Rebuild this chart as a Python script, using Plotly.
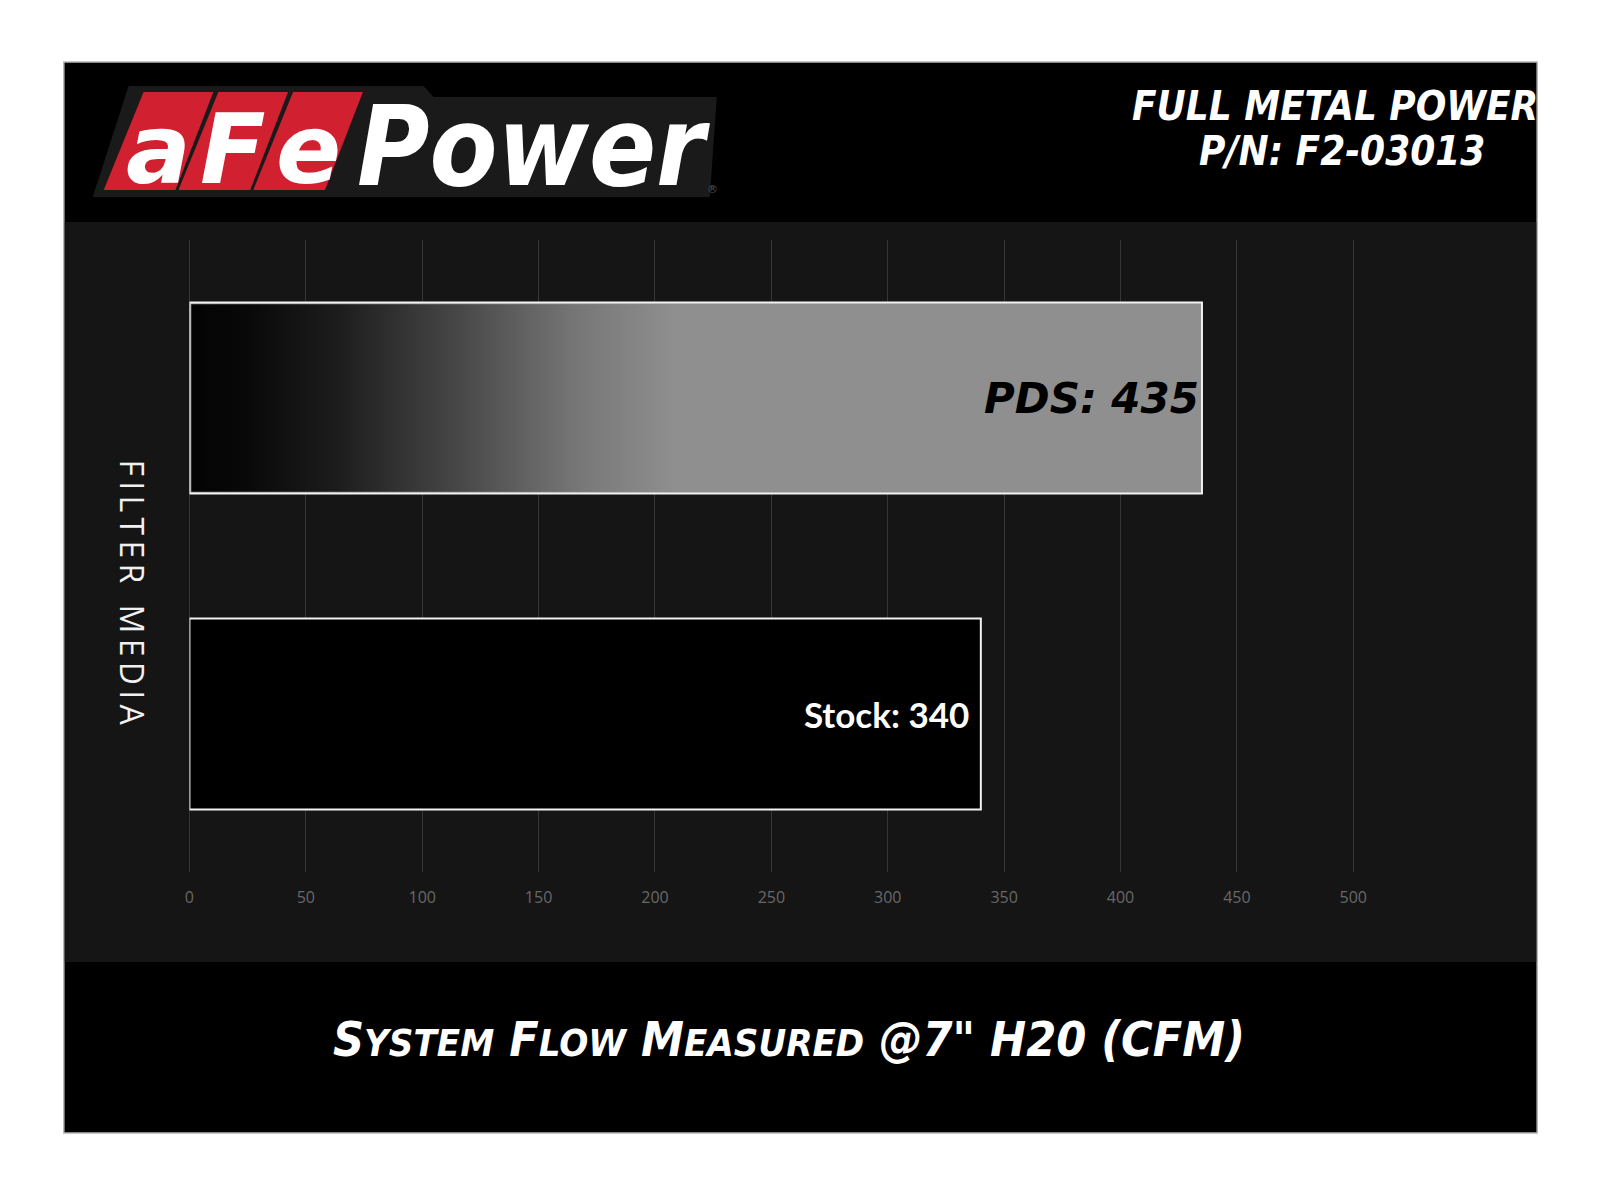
import plotly.graph_objects as go

# ---------------- data ----------------
categories = ["Stock", "PDS"]
flow_cfm = [340, 435]
x_ticks = [0, 50, 100, 150, 200, 250, 300, 350, 400, 450, 500]
header_line1 = "FULL METAL POWER"
header_line2 = "P/N: F2-03013"
axis_title = "FILTER MEDIA"
x_title = "System Flow Measured @7\" H20 (CFM)"

# page is 1600x1199 with an 8px body margin around the figure
OFF = 8
W, H = 1600 - 2 * OFF, 1199 - 2 * OFF


def px(x):
    return (x - OFF) / W


def py(y):
    return 1 - (y - OFF) / H


BAR_W = 0.604
positions = list(range(len(categories)))
bar_colors = ["#000000", "#8f8f8f"]
text_colors = ["#ffffff", "#000000"]
text_pad = ["\u00a0", ""]
labels = [f"{c}: {v}" for c, v in zip(categories, flow_cfm)]

fig = go.Figure()

# bars
fig.add_trace(go.Bar(
    y=positions, x=flow_cfm, orientation="h", width=BAR_W,
    marker=dict(color=bar_colors, line=dict(color="#f2f2f2", width=2)),
    text=[l + pad for l, pad in zip(labels, text_pad)],
    textposition="inside", insidetextanchor="end",
    textfont=dict(color=text_colors, size=[35, 42],
                  family=["Lato, Open Sans, sans-serif",
                          "DejaVu Sans, sans-serif"],
                  weight="bold", style=["normal", "italic"]),
    constraintext="none",
    hoverinfo="skip", showlegend=False,
))

# gradient overlay on the left part of the PDS bar
i = categories.index("PDS")
v = flow_cfm[i]
p = positions[i]
g_end = v * 0.48
inset_x = 0.8
inset_y = 0.005
gx = [inset_x, g_end, g_end, inset_x, inset_x]
gy = [p - BAR_W / 2 + inset_y, p - BAR_W / 2 + inset_y,
      p + BAR_W / 2 - inset_y, p + BAR_W / 2 - inset_y,
      p - BAR_W / 2 + inset_y]
fig.add_trace(go.Scatter(
    x=gx, y=gy, mode="lines", fill="toself",
    line=dict(width=0, color="rgba(0,0,0,0)"),
    fillgradient=dict(type="horizontal", colorscale=[
        [0.0, "#030303"], [0.12, "#090909"], [0.3, "#1c1c1c"],
        [0.55, "#474747"], [0.8, "#777777"], [1.0, "#8f8f8f"]]),
    hoverinfo="skip", showlegend=False,
))

shapes = []
# page frame (black)
shapes.append(dict(type="rect", xref="paper", yref="paper", layer="below",
                   x0=px(59), x1=px(1537), y0=py(1133), y1=py(62),
                   fillcolor="#000000", line=dict(color="#b5b5b5", width=1.5)))
# dark chart band
shapes.append(dict(type="rect", xref="paper", yref="paper", layer="below",
                   x0=px(60), x1=px(1536), y0=py(962), y1=py(222),
                   fillcolor="#151515", line=dict(width=0)))


def path(pts):
    return "M " + " L ".join(f"{px(x):.5f},{py(y):.5f}" for x, y in pts) + " Z"


# logo dark backing
shapes.append(dict(type="path", xref="paper", yref="paper", layer="below",
                   path=path([(88, 197), (124, 86), (420, 86), (430, 97),
                              (714, 97), (707, 197)]),
                   fillcolor="#1a1a1a", line=dict(width=0)))
# red logo boxes
boxes = [
    [(99, 190), (139, 92), (209, 92), (171, 190)],
    [(174, 190), (214, 92), (284, 92), (246, 190)],
    [(249, 190), (289, 92), (359, 92), (321, 190)],
]
for b in boxes:
    shapes.append(dict(type="path", xref="paper", yref="paper", layer="below",
                       path=path(b), fillcolor="#d1202f", line=dict(width=0)))

annotations = []
logo_font = dict(family="DejaVu Sans Condensed, DejaVu Sans, sans-serif",
                 color="#ffffff", size=110, weight="bold", style="italic")
letter_font = dict(family="DejaVu Sans, sans-serif", color="#ffffff",
                   size=96, weight="bold", style="italic")
for ch, cx in zip(["a", "F", "e"], [154, 229, 304]):
    annotations.append(dict(text=ch, x=px(cx), y=py(150), xref="paper",
                            yref="paper", showarrow=False, xanchor="center",
                            yanchor="middle", font=letter_font, borderpad=0))
annotations.append(dict(text="Power", x=px(352), y=py(147), xref="paper",
                        yref="paper", showarrow=False, xanchor="left",
                        yanchor="middle", font=logo_font, borderpad=0))
annotations.append(dict(text="®", x=px(702), y=py(189), xref="paper",
                        yref="paper", showarrow=False, xanchor="left",
                        yanchor="middle",
                        font=dict(size=11, color="#555555",
                                  family="DejaVu Sans")))

head_font = dict(family="DejaVu Sans Condensed, DejaVu Sans, sans-serif",
                 color="#ffffff", size=40, weight="bold", style="italic")
annotations.append(dict(text=header_line1, x=px(1334), y=py(106),
                        xref="paper", yref="paper", showarrow=False,
                        xanchor="center", yanchor="middle", font=head_font))
annotations.append(dict(text=header_line2, x=px(1341), y=py(151),
                        xref="paper", yref="paper", showarrow=False,
                        xanchor="center", yanchor="middle", font=head_font))


def small_caps(text, small):
    out = []
    for word in text.split(" "):
        if word.isalpha() and len(word) > 1:
            out.append(word[0].upper() +
                       f"<span style='font-size:{small}px'>{word[1:].upper()}</span>")
        else:
            out.append(word.upper())
    return " ".join(out)


annotations.append(dict(text=small_caps(x_title, 38), x=px(786),
                        y=py(1039), xref="paper", yref="paper",
                        showarrow=False, xanchor="center", yanchor="middle",
                        font=dict(family="DejaVu Sans Condensed, DejaVu Sans, sans-serif",
                                  color="#ffffff", size=48, weight="bold",
                                  style="italic")))

gap = "\u2009"
spaced = gap.join(list(axis_title)).replace(gap + " " + gap, "\u2002" + gap)
annotations.append(dict(text=spaced,
                        x=px(127), y=py(592), xref="paper", yref="paper",
                        showarrow=False, textangle=90, xanchor="center",
                        yanchor="middle",
                        font=dict(family="Open Sans, sans-serif",
                                  color="#f0f0f0", size=32)))

X_MAX = 540
X0_PX = 185
fig.update_layout(
    width=W, height=H, autosize=False,
    margin=dict(l=0, r=0, t=0, b=0),
    paper_bgcolor="#ffffff", plot_bgcolor="rgba(0,0,0,0)",
    shapes=shapes, annotations=annotations,
    xaxis=dict(domain=[px(X0_PX), px(X0_PX + 2.335 * X_MAX)], range=[0, X_MAX],
               tickvals=x_ticks, ticktext=[str(t) for t in x_ticks],
               showgrid=True, gridcolor="#363636", gridwidth=1,
               zeroline=True, zerolinecolor="#363636", zerolinewidth=1,
               showline=False, ticks="outside", ticklen=11,
               tickcolor="rgba(0,0,0,0)",
               tickfont=dict(family="Open Sans, sans-serif", size=16,
                             color="#686868"),
               fixedrange=True),
    yaxis=dict(domain=[py(872), py(240)], range=[-0.5, 1.5],
               showticklabels=False, showgrid=False, zeroline=False,
               showline=False, ticks="", fixedrange=True),
    bargap=0.4,
)

fig.write_html("out.html")
